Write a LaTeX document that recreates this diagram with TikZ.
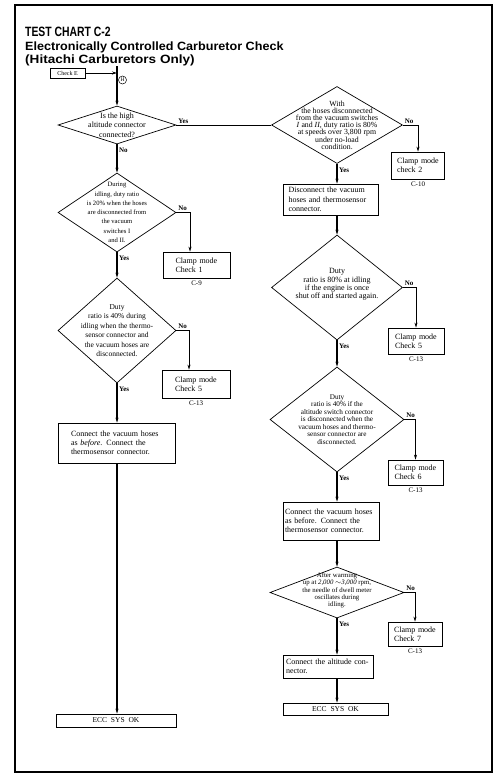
\documentclass[tikz,border=0pt]{standalone}
\usepackage{fontspec}
\setmainfont{Liberation Serif}
\newfontfamily\headfont{Liberation Sans}
\usetikzlibrary{shapes.geometric, arrows.meta}

\begin{document}
\begin{tikzpicture}[x=1pt, y=-1pt,
    flowbox/.style={draw=inkColour, line width=0.7pt, align=left, inner sep=0pt, font=\fontsize{8}{9.4}\selectfont},
    clampbox/.style={flowbox, text width=42pt},
    okbox/.style={draw=inkColour, line width=0.7pt, inner sep=0pt, font=\fontsize{7.5}{9}\selectfont},
    decision/.style={diamond, draw=inkColour, line width=0.7pt, inner sep=0pt},
    qtext/.style={align=center, inner sep=0pt},
    refnote/.style={font=\fontsize{7}{8}\selectfont, inner sep=2pt},
    yesno/.style={font=\bfseries\fontsize{7}{8}\selectfont, inner sep=1.5pt},
    heading/.style={anchor=base west, inner sep=0pt, font=\headfont\bfseries\fontsize{12}{13}\selectfont},
    flowline/.style={draw=inkColour, line width=0.8pt},
    flowarrow/.style={flowline, -{Stealth[length=5pt, width=3pt]}},
    spine/.style={flowarrow, line width=1.1pt}]
    % Define column positions
    \def\spineL{117}
    \def\spineR{337}

    \definecolor{inkColour}{HTML}{000000}

    \useasboundingbox (0,0) rectangle (502,782);

    % Draw frame and heading
    \draw[inkColour, line width=1.3pt] (15,5) rectangle (492,772);
    \node[heading, font=\headfont\bfseries\fontsize{13.5}{16}\selectfont] (title) at (25,36) {\scalebox{0.77}[1]{TEST CHART C-2}};
    \node[heading] (subtitle) at (25,50) {\scalebox{1.05}[1]{Electronically Controlled Carburetor Check}};
    \node[heading] (subtitleTwo) at (25,63) {\scalebox{1.13}[1]{(Hitachi Carburetors Only)}};

    % Entry point
    \node[flowbox, align=center, font=\fontsize{6}{7}\selectfont, minimum width=35pt, minimum height=10pt] (checkE) at (67.5,73) {Check E};
    \coordinate (hTop) at (\spineL,66);
    \coordinate (hJoin) at (\spineL,73);
    \node[draw=inkColour, circle, line width=0.5pt, inner sep=0pt, minimum size=8pt, font=\fontsize{5.5}{6}\selectfont] (hMark) at (122.5,80) {H};

    % Left column
    \node[decision, minimum width=118pt, minimum height=38pt, label={[qtext, font=\fontsize{8}{9.5}\selectfont]center:{Is the high\\altitude connector\\connected?}}] (altQ) at (\spineL,125) {};
    \node[decision, minimum width=118pt, minimum height=79pt, label={[qtext, font=\fontsize{6.6}{9.3}\selectfont]center:{During\\idling, duty ratio\\is 20\% when the hoses\\are disconnected from\\the vacuum\\switches I\\and II.}}] (idleLowQ) at (\spineL,212.5) {};
    \node[decision, minimum width=118pt, minimum height=105pt, label={[qtext, font=\fontsize{7.5}{9.5}\selectfont]center:{Duty\\ratio is 40\% during\\idling when the thermo-\\sensor connector and\\the vacuum hoses are\\disconnected.}}] (idleHighQ) at (\spineL,330.5) {};
    \node[clampbox, minimum width=67pt, minimum height=26pt, label={[refnote]below:C-9}] (clampOne) at (196.5,265) {Clamp mode\\Check 1};
    \node[clampbox, minimum width=68pt, minimum height=28pt, label={[refnote]below:C-13}] (clampFiveL) at (196,384) {Clamp mode\\Check 5};
    \node[flowbox, text width=92pt, minimum width=117pt, minimum height=40pt, font=\fontsize{8}{8.8}\selectfont] (reconnectL) at (\spineL,443) {Connect the vacuum hoses\\as \textit{before}. Connect the\\thermosensor connector.};
    \node[okbox, minimum width=120pt, minimum height=13pt] (okL) at (116,720.5) {ECC\ \ SYS\ \ OK};

    % Right column
    \node[decision, minimum width=131pt, minimum height=77pt, label={[qtext, font=\fontsize{7.8}{7.2}\selectfont]center:{With\\the hoses disconnected\\from the vacuum switches\\\textit{I} and \textit{II}, duty ratio is 80\%\\at speeds over 3,800 rpm\\under no-load\\condition.}}] (rpmQ) at (\spineR,125) {};
    \node[clampbox, minimum width=53pt, minimum height=27pt, label={[refnote]below:C-10}] (clampTwo) at (418,165.5) {Clamp mode\\check 2};
    \node[flowbox, text width=84pt, minimum width=95pt, minimum height=31pt] (disconnect) at (330.5,199.5) {Disconnect the vacuum\\hoses and thermosensor\\connector.};
    \node[decision, minimum width=131pt, minimum height=105pt, label={[qtext, yshift=3pt, font=\fontsize{8}{7.2}\selectfont]center:{Duty\\ratio is 80\% at idling\\if the engine is once\\shut off and started again.}}] (restartQ) at (\spineR,287.5) {};
    \node[clampbox, minimum width=56pt, minimum height=26pt, label={[refnote]below:C-13}] (clampFiveR) at (416,341) {Clamp mode\\Check 5};
    \node[decision, minimum width=134pt, minimum height=105pt, label={[qtext, font=\fontsize{7.2}{7.5}\selectfont]center:{Duty\\ratio is 40\% if the\\altitude switch connector\\is disconnected when the\\vacuum hoses and thermo-\\sensor connector are\\disconnected.}}] (altSwitchQ) at (\spineR,419.5) {};
    \node[clampbox, minimum width=55pt, minimum height=25pt, label={[refnote]below:C-13}] (clampSix) at (415.5,472.5) {Clamp mode\\Check 6};
    \node[flowbox, text width=92pt, minimum width=96pt, minimum height=38pt, font=\fontsize{8}{9}\selectfont] (reconnectR) at (331,521) {Connect the vacuum hoses\\as before. Connect the\\thermosensor connector.};
    \node[decision, minimum width=134pt, minimum height=51pt, label={[qtext, yshift=2pt, font=\fontsize{6.8}{7.2}\selectfont]center:{After warming\\up at \textit{2,000} $\sim$\textit{3,000} rpm,\\the needle of dwell meter\\oscillates during\\idling.}}] (warmQ) at (\spineR,592.5) {};
    \node[clampbox, minimum width=54pt, minimum height=24pt, label={[refnote]below:C-13}] (clampSeven) at (415,634) {Clamp mode\\Check 7};
    \node[flowbox, text width=84pt, minimum width=90pt, minimum height=23pt] (altConnect) at (328,666.5) {Connect the altitude con-\\nector.};
    \node[okbox, minimum width=105pt, minimum height=12pt] (okR) at (335.5,709) {ECC\ \ SYS\ \ OK};

    % Draw the entry connectors
    \draw[flowarrow] (checkE.east) -- (hJoin);
    \draw[spine] (hTop) -- (altQ.north);

    % Draw the left column connectors
    \draw[flowline] (altQ.east) node[yesno, anchor=south west] (yesAlt) {Yes} -- (rpmQ.west);
    \draw[spine] (altQ.south) node[yesno, anchor=north west, yshift=-2pt] (noAlt) {No} -- (idleLowQ.north);
    \draw[flowarrow] (idleLowQ.east) node[yesno, anchor=south west] (noIdleLow) {No} -| ([xshift=-6.5pt]clampOne.north);
    \draw[spine] (idleLowQ.south) node[yesno, anchor=north west, yshift=-2pt] (yesIdleLow) {Yes} -- (idleHighQ.north);
    \draw[flowarrow] (idleHighQ.east) node[yesno, anchor=south west] (noIdleHigh) {No} -| ([xshift=-7pt]clampFiveL.north);
    \draw[spine] (idleHighQ.south) node[yesno, anchor=north west, yshift=-2pt] (yesIdleHigh) {Yes} -- (reconnectL.north);
    \draw[spine] (reconnectL.south) -- (reconnectL.south |- okL.north);

    % Draw the right column connectors
    \draw[flowarrow] (rpmQ.east) node[yesno, anchor=south west] (noRpm) {No} -| (clampTwo.north);
    \draw[spine] (rpmQ.south) node[yesno, anchor=north west, yshift=-2pt] (yesRpm) {Yes} -- (rpmQ.south |- disconnect.north);
    \draw[spine] (disconnect.south -| restartQ.north) -- (restartQ.north);
    \draw[flowarrow] (restartQ.east) node[yesno, anchor=south west] (noRestart) {No} -| (clampFiveR.north);
    \draw[spine] (restartQ.south) node[yesno, anchor=north west, yshift=-2pt] (yesRestart) {Yes} -- (altSwitchQ.north);
    \draw[flowarrow] (altSwitchQ.east) node[yesno, anchor=south west] (noAltSwitch) {No} -| (clampSix.north);
    \draw[spine] (altSwitchQ.south) node[yesno, anchor=north west, yshift=-2pt] (yesAltSwitch) {Yes} -- (altSwitchQ.south |- reconnectR.north);
    \draw[spine] (reconnectR.south -| warmQ.north) -- (warmQ.north);
    \draw[flowarrow] (warmQ.east) node[yesno, anchor=south west] (noWarm) {No} -| (clampSeven.north);
    \draw[spine] (warmQ.south) node[yesno, anchor=north west, yshift=-2pt] (yesWarm) {Yes} -- (warmQ.south |- altConnect.north);
    \draw[spine] (altConnect.south -| warmQ.south) -- (warmQ.south |- okR.north);

\end{tikzpicture}
\end{document}
